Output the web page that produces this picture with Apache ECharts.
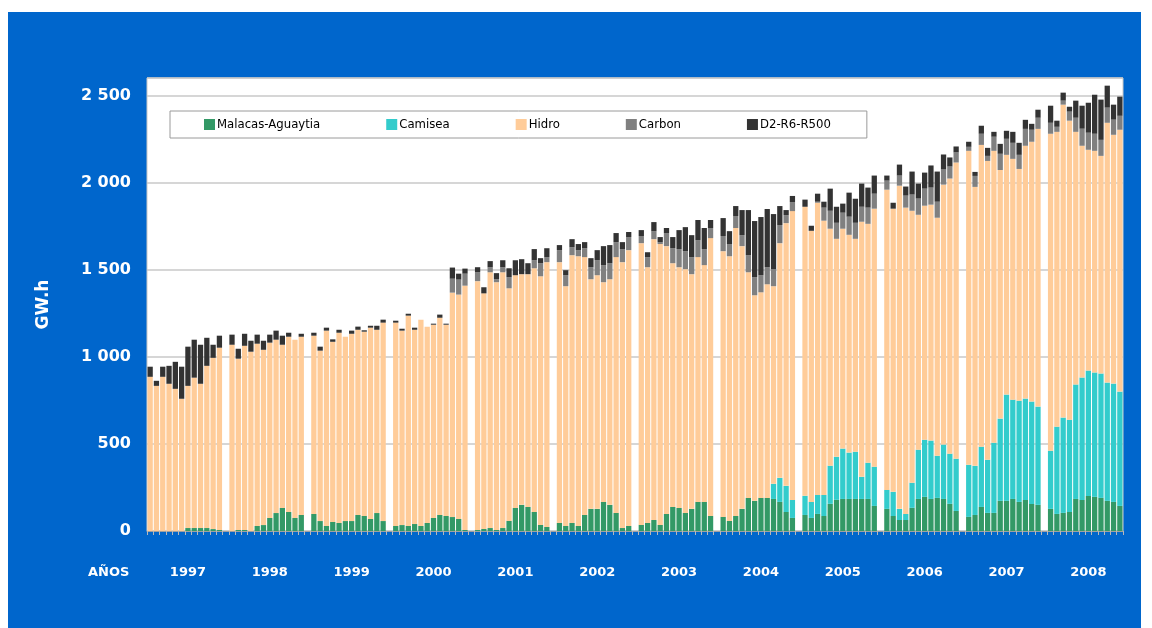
<!DOCTYPE html>
<html>
<head>
<meta charset="utf-8">
<script src="https://cdn.jsdelivr.net/npm/echarts@6/dist/echarts.min.js"></script>
<style>
  body { margin: 0; background: #fff; }
  #frame { position: absolute; left: 8px; top: 12px; width: 1133px; height: 616px; background: #0066cc; }
  #chart { position: absolute; left: 0; top: 0; width: 1152px; height: 628px; }
</style>
</head>
<body>
<div id="frame"></div>
<div id="chart"></div>
<script>
// años y datos mensuales (GW.h), 12 valores por año
const years = [1997, 1998, 1999, 2000, 2001, 2002, 2003, 2004, 2005, 2006, 2007, 2008];
const yTicks = [0, 500, 1000, 1500, 2000, 2500];

const malacas = [
  0, 0, 0, 0, 0, 0, 17, 17, 17, 17, 11, 6,
  0, 6, 6, 0, 29, 34, 75, 103, 132, 109, 75, 92,
  98, 57, 29, 52, 46, 57, 57, 92, 86, 69, 103, 57,
  29, 34, 29, 40, 29, 46, 75, 92, 86, 80, 69, 6,
  6, 12, 17, 6, 17, 58, 132, 150, 138, 109, 35, 23,
  46, 29, 46, 29, 92, 127, 127, 167, 150, 104, 17, 29,
  35, 46, 63, 35, 98, 138, 132, 104, 127, 167, 167, 86,
  81, 58, 86, 127, 190, 173, 190, 190, 184, 167, 109, 75,
  92, 75, 98, 86, 156, 179, 184, 184, 184, 184, 184, 144,
  127, 86, 63, 63, 133, 184, 196, 184, 190, 184, 156, 115,
  81, 92, 138, 104, 104, 173, 173, 184, 167, 178, 155, 150,
  127, 98, 104, 109, 184, 178, 201, 196, 190, 173, 167, 144
];
const camisea = [
  0, 0, 0, 0, 0, 0, 0, 0, 0, 0, 0, 0,
  0, 0, 0, 0, 0, 0, 0, 0, 0, 0, 0, 0,
  0, 0, 0, 0, 0, 0, 0, 0, 0, 0, 0, 0,
  0, 0, 0, 0, 0, 0, 0, 0, 0, 0, 0, 0,
  0, 0, 0, 0, 0, 0, 0, 0, 0, 0, 0, 0,
  0, 0, 0, 0, 0, 0, 0, 0, 0, 0, 0, 0,
  0, 0, 0, 0, 0, 0, 0, 0, 0, 0, 0, 0,
  0, 0, 0, 0, 0, 0, 0, 0, 87, 138, 150, 103,
  110, 92, 109, 121, 219, 247, 289, 266, 271, 127, 208, 225,
  109, 139, 64, 35, 144, 283, 328, 335, 242, 312, 288, 300,
  299, 282, 346, 305, 403, 472, 610, 570, 581, 582, 588, 564,
  334, 501, 547, 530, 657, 703, 720, 714, 714, 679, 679, 656
];
const hidro = [
  885, 833, 885, 845, 816, 759, 816, 863, 828, 931, 983, 1046,
  1069, 983, 1057, 1029, 1046, 1006, 1006, 995, 937, 1006, 1023, 1023,
  1023, 978, 1121, 1034, 1092, 1058, 1075, 1063, 1058, 1098, 1052, 1139,
  1167, 1116, 1207, 1115, 1184, 1127, 1109, 1132, 1098, 1288, 1288, 1402,
  1428, 1352, 1468, 1422, 1468, 1335, 1336, 1324, 1336, 1399, 1427, 1520,
  1497, 1376, 1537, 1548, 1480, 1318, 1341, 1261, 1295, 1468, 1526, 1583,
  1617, 1468, 1612, 1612, 1537, 1399, 1382, 1399, 1347, 1405, 1359, 1595,
  1525, 1519, 1653, 1508, 1295, 1180, 1180, 1226, 1134, 1347, 1508, 1658,
  1659, 1556, 1677, 1574, 1360, 1251, 1262, 1250, 1222, 1464, 1371, 1481,
  1723, 1625, 1855, 1758, 1561, 1348, 1343, 1354, 1366, 1492, 1579, 1700,
  1802, 1601, 1732, 1715, 1675, 1427, 1376, 1382, 1330, 1451, 1491, 1594,
  1819, 1692, 1796, 1716, 1450, 1330, 1267, 1272, 1249, 1491, 1428, 1503
];
const carbon = [
  0, 0, 0, 0, 0, 0, 0, 0, 0, 0, 0, 0,
  0, 0, 0, 0, 0, 0, 0, 0, 0, 0, 0, 0,
  0, 0, 0, 0, 0, 0, 0, 0, 0, 0, 0, 0,
  0, 0, 0, 0, 0, 0, 0, 0, 0, 80, 86, 69,
  52, 0, 29, 17, 29, 64, 0, 0, 0, 46, 75, 29,
  69, 63, 46, 35, 51, 69, 86, 98, 92, 86, 75, 75,
  41, 58, 46, 11, 75, 86, 104, 103, 98, 97, 92, 58,
  87, 70, 69, 63, 98, 104, 98, 98, 98, 104, 46, 52,
  0, 0, 6, 75, 103, 92, 92, 104, 92, 86, 93, 86,
  52, 0, 58, 69, 93, 93, 98, 98, 92, 87, 69, 58,
  23, 63, 64, 29, 81, 93, 92, 92, 81, 97, 69, 64,
  63, 29, 23, 52, 81, 98, 98, 98, 92, 87, 87, 80
];
const d2 = [
  58, 29, 58, 103, 155, 184, 225, 218, 224, 161, 75, 69,
  58, 57, 69, 63, 52, 52, 46, 52, 52, 23, 0, 17,
  17, 23, 17, 14, 17, 0, 18, 18, 8, 11, 23, 17,
  11, 11, 11, 12, 0, 0, 6, 18, 6, 64, 34, 29,
  28, 35, 35, 35, 40, 51, 86, 86, 63, 64, 29, 51,
  29, 29, 46, 35, 35, 52, 58, 109, 104, 52, 40, 29,
  34, 28, 52, 29, 29, 64, 109, 138, 126, 116, 121, 46,
  103, 74, 57, 144, 259, 322, 334, 334, 316, 109, 29, 35,
  41, 29, 46, 34, 127, 92, 52, 138, 138, 133, 115, 104,
  29, 34, 63, 52, 132, 86, 92, 127, 173, 86, 52, 34,
  29, 23, 46, 46, 28, 57, 46, 63, 69, 52, 34, 46,
  98, 35, 46, 28, 98, 132, 172, 224, 231, 126, 86, 110
];

// una categoría vacía entre años
const categories = [];
years.forEach((y, k) => {
  if (k > 0) categories.push("");
  for (let m = 1; m <= 12; m++) categories.push(y + "-" + m);
});
const withGaps = arr => {
  const out = [];
  years.forEach((y, k) => {
    if (k > 0) out.push(null);
    out.push(...arr.slice(k * 12, k * 12 + 12));
  });
  return out;
};

const serie = (name, data, color) => ({
  name,
  type: "bar",
  stack: "total",
  barCategoryGap: "16%",
  data: withGaps(data),
  itemStyle: { color },
  emphasis: { disabled: true }
});

const chart = echarts.init(document.getElementById("chart"), null, { renderer: "canvas" });
const option = {
  backgroundColor: "transparent",
  animation: false,
  textStyle: { fontFamily: "DejaVu Sans" },
  grid: {
    left: 147, right: 29, top: 78, bottom: 97,
    show: true, backgroundColor: "#fff", borderColor: "#c8c8c8", borderWidth: 1
  },
  legend: {
    left: 170, top: 111,
    padding: [7, 36, 7, 34],
    itemGap: 66,
    itemWidth: 11, itemHeight: 11,
    icon: "rect",
    backgroundColor: "#fff",
    borderColor: "#9a9a9a",
    borderWidth: 1,
    textStyle: { fontFamily: "DejaVu Sans Condensed", fontSize: 13, color: "#000", padding: [0, 0, 0, -3] },
    data: ["Malacas-Aguaytia", "Camisea", "Hidro", "Carbon", "D2-R6-R500"]
  },
  xAxis: {
    type: "category",
    data: categories,
    axisLine: { lineStyle: { color: "#a0a0a0", width: 1 } },
    axisTick: { show: true, interval: 0, length: 4, lineStyle: { color: "#b8b8b8" } },
    axisLabel: {
      interval: (i, v) => v.endsWith("-7"),
      formatter: v => v.split("-")[0],
      color: "#fff", fontWeight: "bold", fontSize: 13, margin: 35
    },
    splitLine: { show: false }
  },
  yAxis: {
    type: "value",
    min: 0, max: 2600, interval: 500,
    name: "GW.h",
    nameLocation: "middle",
    nameRotate: 90,
    nameGap: 95,
    nameTextStyle: { color: "#fff", fontWeight: "bold", fontSize: 17 },
    axisLine: { show: false },
    axisTick: { show: false },
    axisLabel: {
      showMaxLabel: false,
      color: "#fff", fontWeight: "bold", fontSize: 16, margin: 16,
      formatter: v => yTicks.includes(v) ? String(v).replace(/\B(?=(\d{3})+(?!\d))/g, " ") : ""
    },
    splitLine: { lineStyle: { color: "#c8c8c8", width: 1.5 } }
  },
  graphic: [{
    type: "text", left: 88, top: 566,
    style: { text: "AÑOS", fill: "#fff", font: "bold 13px 'DejaVu Sans'" }
  }],
  series: [
    serie("Malacas-Aguaytia", malacas, "#339966"),
    serie("Camisea", camisea, "#33cccc"),
    serie("Hidro", hidro, "#ffcc99"),
    serie("Carbon", carbon, "#808080"),
    serie("D2-R6-R500", d2, "#333333")
  ]
};
chart.setOption(option);
</script>
</body>
</html>
